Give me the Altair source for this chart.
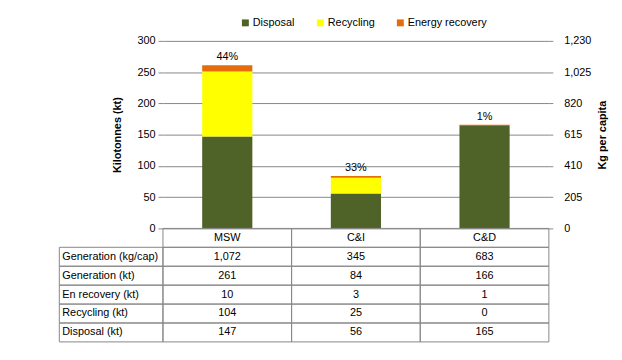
import altair as alt
import pandas as pd

categories = ["MSW", "C&I", "C&D"]
series = ["Disposal", "Recycling", "Energy recovery"]
colors = ["#4F6228", "#FFFF00", "#E46C0A"]
disposal = [147, 56, 165]
recycling = [104, 25, 0]
energy_recovery = [10, 3, 1]
generation_kt = [261, 84, 166]
generation_kgcap = [1072, 345, 683]
pct_labels = ["44%", "33%", "1%"]
left_ticks = [0, 50, 100, 150, 200, 250, 300]
right_ticks = [0, 205, 410, 615, 820, 1025, 1230]
row_labels = ["Generation (kg/cap)", "Generation (kt)", "En recovery (kt)",
              "Recycling (kt)", "Disposal (kt)"]

FONT = "Liberation Sans"
GRID = "#878787"
W, H = 391, 190
TABLE_BOTTOM = 305
LABEL_COL = 105

# ---- bar data
bar_rows = []
for s_i, (name, vals) in enumerate(zip(series, [disposal, recycling, energy_recovery])):
    for c, v in zip(categories, vals):
        bar_rows.append({"category": c, "series": name, "value": v, "order": s_i})
bars_df = pd.DataFrame(bar_rows)
pct_df = pd.DataFrame({"category": categories, "total": generation_kt, "pct": pct_labels})
kg_df = pd.DataFrame({"category": categories, "kg": generation_kgcap})

# ---- table data
HEADER = "__header__"
row_domain = [HEADER] + row_labels
table_values = [
    [f"{v:,}" for v in generation_kgcap],
    [f"{v:,}" for v in generation_kt],
    [f"{v:,}" for v in energy_recovery],
    [f"{v:,}" for v in recycling],
    [f"{v:,}" for v in disposal],
]
cell_rows = []
for c in categories:
    cell_rows.append({"row": HEADER, "category": c, "text": c})
for r, vals in zip(row_labels, table_values):
    for c, t in zip(categories, vals):
        cell_rows.append({"row": r, "category": c, "text": t})
cells_df = pd.DataFrame(cell_rows)
labels_df = pd.DataFrame({"row": row_labels})

x_enc = alt.X("category:N", sort=categories,
              scale=alt.Scale(domain=categories, paddingInner=0, paddingOuter=0),
              axis=None)

kt_axis = alt.Axis(orient="left", values=left_ticks, grid=True, gridColor=GRID,
                   domain=False, tickSize=5, tickColor=GRID, labelPadding=3,
                   labelFontSize=11, labelColor="black", labelFont=FONT,
                   labelOverlap=False,
                   title="Kilotonnes (kt)", titleFontWeight="bold",
                   titleFontSize=11, titleFont=FONT, titleColor="black",
                   titlePadding=15)
kt_scale = alt.Scale(domain=[0, 300], nice=False)

bars = alt.Chart(bars_df).mark_bar(width=alt.RelativeBandSize(0.39)).encode(
    x=x_enc,
    y=alt.Y("value:Q", stack="zero", scale=kt_scale, axis=kt_axis),
    color=alt.Color("series:N",
                    scale=alt.Scale(domain=series, range=colors),
                    legend=alt.Legend(orient="none", legendX=78, legendY=-24,
                                      direction="horizontal", title=None,
                                      symbolType="square", symbolSize=49,
                                      symbolStrokeWidth=0, labelFontSize=11,
                                      labelFont=FONT, labelColor="black",
                                      columnPadding=20, labelOffset=2, padding=0)),
    order=alt.Order("order:Q"),
)

pct_text = alt.Chart(pct_df).mark_text(
    baseline="bottom", dy=-3, font=FONT, fontSize=11, color="black"
).encode(x=x_enc, y=alt.Y("total:Q", scale=kt_scale, axis=kt_axis), text="pct:N")

kt_layer = alt.layer(bars, pct_text)

kg_layer = alt.Chart(kg_df).mark_point(opacity=0).encode(
    x=x_enc,
    y=alt.Y("kg:Q", scale=alt.Scale(domain=[0, 1230], nice=False),
            axis=alt.Axis(orient="right", values=right_ticks, format=",.0f", grid=False,
                          domain=False, tickSize=4, tickColor=GRID, labelPadding=11,
                          labelFontSize=11, labelColor="black", labelFont=FONT,
                          labelOverlap=False,
                          title="Kg per capita", titleFontWeight="bold",
                          titleFontSize=11, titleFont=FONT, titleColor="black",
                          titleAngle=270, titleBaseline="top", titlePadding=6)),
)

y_tab = alt.Y("row:N", sort=row_domain,
              scale=alt.Scale(domain=row_domain, range=[H, TABLE_BOTTOM],
                              paddingInner=0, paddingOuter=0),
              axis=None)

cell_rects = alt.Chart(cells_df).mark_rect(
    fill="white", fillOpacity=0, stroke=GRID, strokeWidth=1
).encode(x=x_enc, y=y_tab)

label_rects = alt.Chart(labels_df).mark_rect(
    fill="white", fillOpacity=0, stroke=GRID, strokeWidth=1
).encode(x=alt.value(-LABEL_COL), x2=alt.value(0), y=y_tab)

cell_text = alt.Chart(cells_df).mark_text(
    font=FONT, fontSize=11, color="black"
).encode(x=x_enc, y=y_tab, text="text:N")

label_text = alt.Chart(labels_df).mark_text(
    font=FONT, fontSize=11, color="black", align="left"
).encode(x=alt.value(-LABEL_COL + 3), y=y_tab, text="row:N")

table_layer = alt.layer(cell_rects, label_rects, cell_text, label_text)

chart = alt.layer(kt_layer, kg_layer, table_layer).resolve_scale(
    y="independent"
).properties(
    width=W, height=H,
    autosize=alt.AutoSizeParams(type="none"),
    padding={"left": 157, "top": 31, "right": 66, "bottom": 130},
).configure(font=FONT).configure_view(strokeWidth=0)

chart.save("out.html", embed_options={"renderer": "svg", "actions": False})
